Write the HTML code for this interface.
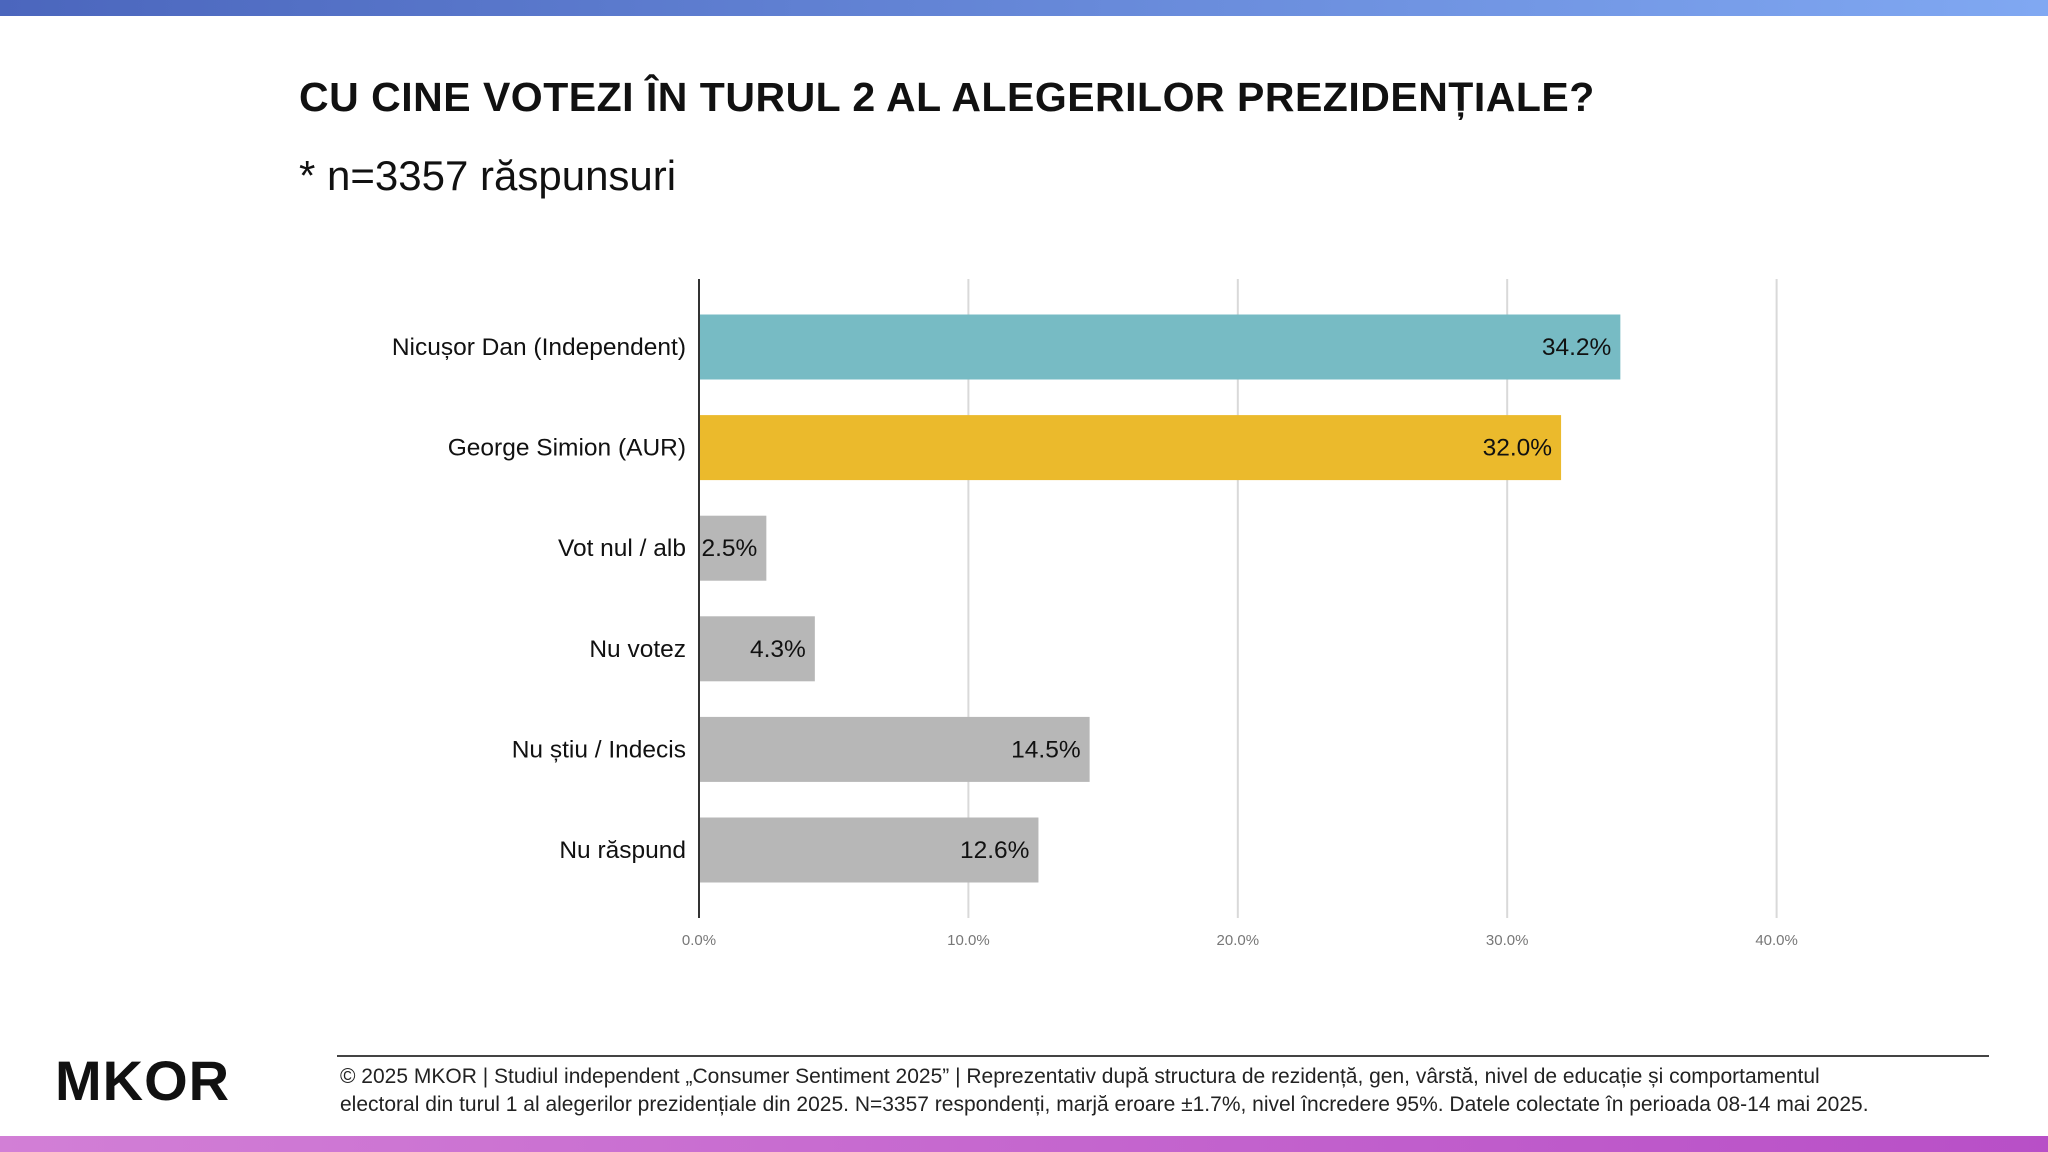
<!DOCTYPE html>
<html><head><meta charset="utf-8">
<style>
body{margin:0;width:2048px;height:1152px;background:#fff;font-family:"Liberation Sans",sans-serif;position:relative;overflow:hidden}
.topbar{position:absolute;left:0;top:0;width:2048px;height:16px;background:linear-gradient(90deg,#4b66bd,#80a8f2)}
.botbar{position:absolute;left:0;top:1136px;width:2048px;height:16px;background:linear-gradient(90deg,#d27fd6,#b84fc7)}
h1{position:absolute;left:299px;top:74px;margin:0;font-size:41px;font-weight:bold;color:#111;letter-spacing:0.5px}
.sub{position:absolute;left:299px;top:152px;font-size:42px;color:#111}
.footline{position:absolute;left:337px;top:1055px;width:1652px;height:2px;background:#444}
.foot{position:absolute;left:340px;top:1063px;font-size:21px;line-height:28px;color:#222;white-space:nowrap}
.logo{position:absolute;left:55px;top:1048px;font-size:56px;font-weight:bold;color:#111;letter-spacing:1px}
</style></head><body>
<div class="topbar"></div>
<h1>CU CINE VOTEZI ÎN TURUL 2 AL ALEGERILOR PREZIDENȚIALE?</h1>
<div class="sub">* n=3357 răspunsuri</div>
<svg id="chart" width="2048" height="1000" style="position:absolute;left:0;top:0"></svg>
<div class="footline"></div>
<div class="foot">© 2025 MKOR | Studiul independent „Consumer Sentiment 2025” | Reprezentativ după structura de rezidență, gen, vârstă, nivel de educație și comportamentul<br>electoral din turul 1 al alegerilor prezidențiale din 2025. N=3357 respondenți, marjă eroare ±1.7%, nivel încredere 95%. Datele colectate în perioada 08-14 mai 2025.</div>
<div class="logo">MKOR</div>
<div class="botbar"></div>
<script>
const categories=["Nicușor Dan (Independent)","George Simion (AUR)","Vot nul / alb","Nu votez","Nu știu / Indecis","Nu răspund"];
const values=[34.2,32.0,2.5,4.3,14.5,12.6];
const colors=["#77bbc4","#ebba2c","#b7b7b7","#b7b7b7","#b7b7b7","#b7b7b7"];
const ticks=[0,10,20,30,40];
const tickLabels=["0.0%","10.0%","20.0%","30.0%","40.0%"];
const NS="http://www.w3.org/2000/svg";
const svg=document.getElementById('chart');
const x0=699,pxPer=26.94,plotTop=279,plotBottom=918,firstC=347,step=100.6,bh=65;
const xs=v=>x0+v*pxPer;
const yc=i=>firstC+i*step;
function mk(t,a){const e=document.createElementNS(NS,t);for(const k in a)e.setAttribute(k,a[k]);svg.appendChild(e);return e;}
ticks.forEach((t,i)=>{
 if(i>0){const g=mk('line',{x1:xs(t),x2:xs(t),y1:plotTop,y2:plotBottom,stroke:'#d9d9d9','stroke-width':2});
 
 }
 const l=mk('text',{x:xs(t),y:945,'text-anchor':'middle','font-size':15,fill:'#777','font-family':'Liberation Sans'});
 l.textContent=tickLabels[i];
 
 
});
categories.forEach((c,i)=>{
 const r=mk('rect',{x:x0,y:yc(i)-bh/2,width:xs(values[i])-x0,height:bh,fill:colors[i]});
 
 
 const l=mk('text',{x:686,y:yc(i)+8,'text-anchor':'end','font-size':24.5,fill:'#111','font-family':'Liberation Sans'});
 l.textContent=c;
 
 
 const v=mk('text',{x:xs(values[i])-9,y:yc(i)+8,'text-anchor':'end','font-size':24.5,fill:'#111','font-family':'Liberation Sans'});
 v.textContent=values[i].toFixed(1)+'%';
 
 
});
const ax=mk('line',{x1:x0,x2:x0,y1:plotTop,y2:plotBottom,stroke:'#333','stroke-width':2});


</script>
</body></html>
